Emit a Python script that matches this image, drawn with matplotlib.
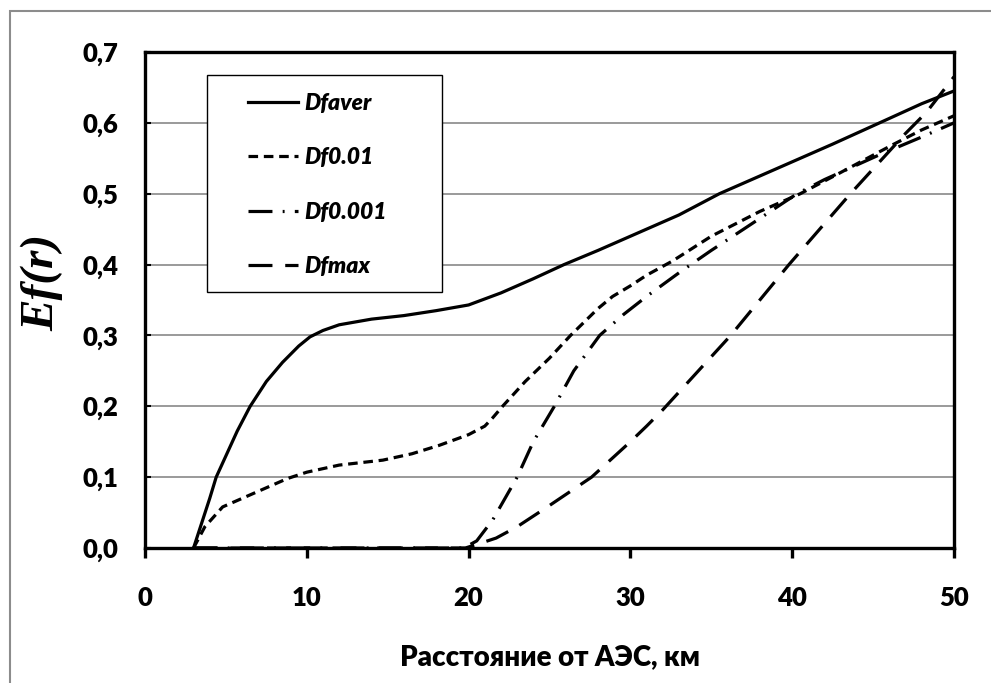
import matplotlib
matplotlib.use("Agg")
import matplotlib.pyplot as plt
from matplotlib.patches import Rectangle

# distance from the plant, km, and Ef(r)
x_aver = [3, 3.5, 4, 4.4, 5, 5.7, 6.5, 7.5, 8.5, 9.5, 10.2, 11, 12, 14, 16, 18, 20,
          22, 24, 25.9, 28, 30, 33, 35.5, 38, 40, 42.5, 45.4, 48, 50]
y_aver = [0, 0.035, 0.07, 0.1, 0.13, 0.165, 0.2, 0.235, 0.262, 0.285, 0.298, 0.307,
          0.315, 0.323, 0.328, 0.335, 0.343, 0.36, 0.38, 0.4, 0.42, 0.44, 0.47, 0.5,
          0.525, 0.545, 0.57, 0.6, 0.627, 0.645]

x_001 = [3, 3.7, 4.8, 5.5, 6.5, 8, 8.8, 10, 12, 14.7, 16.5, 18.2, 20, 21, 21.5, 22.1,
         23.5, 25, 26.3, 28, 28.9, 30, 31, 32.6, 35, 38, 40.5, 43, 46.2, 48, 50]
y_001 = [0, 0.03, 0.058, 0.065, 0.075, 0.09, 0.098, 0.107, 0.117, 0.124, 0.133, 0.145,
         0.16, 0.172, 0.184, 0.2, 0.235, 0.268, 0.3, 0.338, 0.355, 0.37, 0.385, 0.405,
         0.44, 0.475, 0.5, 0.53, 0.569, 0.59, 0.61]

x_0001 = [3, 19.7, 20.5, 21.5, 23, 24, 25.3, 26.5, 28.1, 29.6, 31, 33.1, 35, 37, 40.3,
          42, 45.4, 48, 50]
y_0001 = [0, 0, 0.01, 0.04, 0.1, 0.15, 0.2, 0.25, 0.3, 0.33, 0.355, 0.39, 0.42, 0.45,
          0.5, 0.52, 0.555, 0.58, 0.6]

x_max = [3, 19.8, 20.5, 21.7, 23, 25, 27.6, 30, 31, 32, 33, 34, 35, 36.2, 38, 39.8,
         41.7, 43.6, 45, 47, 48.3, 50]
y_max = [0, 0, 0.005, 0.014, 0.03, 0.06, 0.1, 0.15, 0.172, 0.195, 0.22, 0.245, 0.27,
         0.3, 0.35, 0.4, 0.45, 0.5, 0.535, 0.585, 0.615, 0.665]

series_names = ["Dfaver", "Df0.01", "Df0.001", "Dfmax"]
x_ticks = [0, 10, 20, 30, 40, 50]
y_ticks = [0.0, 0.1, 0.2, 0.3, 0.4, 0.5, 0.6, 0.7]

fig = plt.figure(figsize=(9.91, 6.83), dpi=100)
ax = fig.add_axes([145 / 991, 1 - 548 / 683, 809 / 991, 496 / 683])

# grey frame round the whole picture
fig.patches.append(Rectangle((10 / 991, -0.1), 1.2, (683 - 11) / 683 + 0.1,
                             transform=fig.transFigure, fill=False,
                             edgecolor="#8c8c8c", linewidth=1.5))

lw = 2.3
ax.plot(x_aver, y_aver, color="black", lw=lw, ls="-", label=series_names[0])
ax.plot(x_001, y_001, color="black", lw=lw, ls=(0, (3.0, 1.8)), label=series_names[1])
ax.plot(x_0001, y_0001, color="black", lw=lw, ls=(0, (7.5, 3.2, 0.6, 3.2)),
        label=series_names[2])
ax.plot(x_max, y_max, color="black", lw=lw, ls=(0, (7.5, 4.0)), label=series_names[3])

ax.set_xlim(0, 50)
ax.set_ylim(0, 0.7)
ax.set_xticks(x_ticks)
ax.set_yticks(y_ticks)
ax.set_xticklabels([str(v) for v in x_ticks])
ax.set_yticklabels([f"{v:.1f}".replace(".", ",") for v in y_ticks])

ax.yaxis.grid(True, color="#7f7f7f", linewidth=1.1)
ax.set_axisbelow(True)
for s in ax.spines.values():
    s.set_linewidth(2.4)
ax.tick_params(axis="x", direction="out", length=7, width=2.4, pad=20)
ax.tick_params(axis="y", direction="in", length=4, width=1.5, pad=19)

fam = ["Lato", "DejaVu Sans"]
for t in ax.get_xticklabels() + ax.get_yticklabels():
    t.set_fontfamily(fam)
    t.set_fontweight("heavy")
    t.set_fontsize(18.5)

ax.set_xlabel("Расстояние от АЭС, км", family=fam, weight="heavy", size=20, labelpad=25)
ax.set_ylabel("Ef(r)", family=["Liberation Serif"], style="italic", weight="bold",
              size=34)
ax.yaxis.set_label_coords(-0.127, 0.535)
ax.yaxis.label.set_verticalalignment("center")

# legend box drawn by hand, entries placed inside it
box = Rectangle(((207 - 145) / 809, (548 - 292) / 496), 235 / 809, 217 / 496,
                transform=ax.transAxes, facecolor="white", edgecolor="black",
                linewidth=1.0, zorder=4)
ax.add_patch(box)
leg = ax.legend(loc="center left", bbox_to_anchor=((248 - 145) / 809, (548 - 185) / 496),
                frameon=False, borderpad=0, borderaxespad=0, handlelength=2.2,
                handletextpad=0.25, labelspacing=1.45,
                prop=dict(family=fam, style="italic", weight="heavy", size=16.5))
leg.set_zorder(5)

fig.savefig("out.png", dpi=100)
